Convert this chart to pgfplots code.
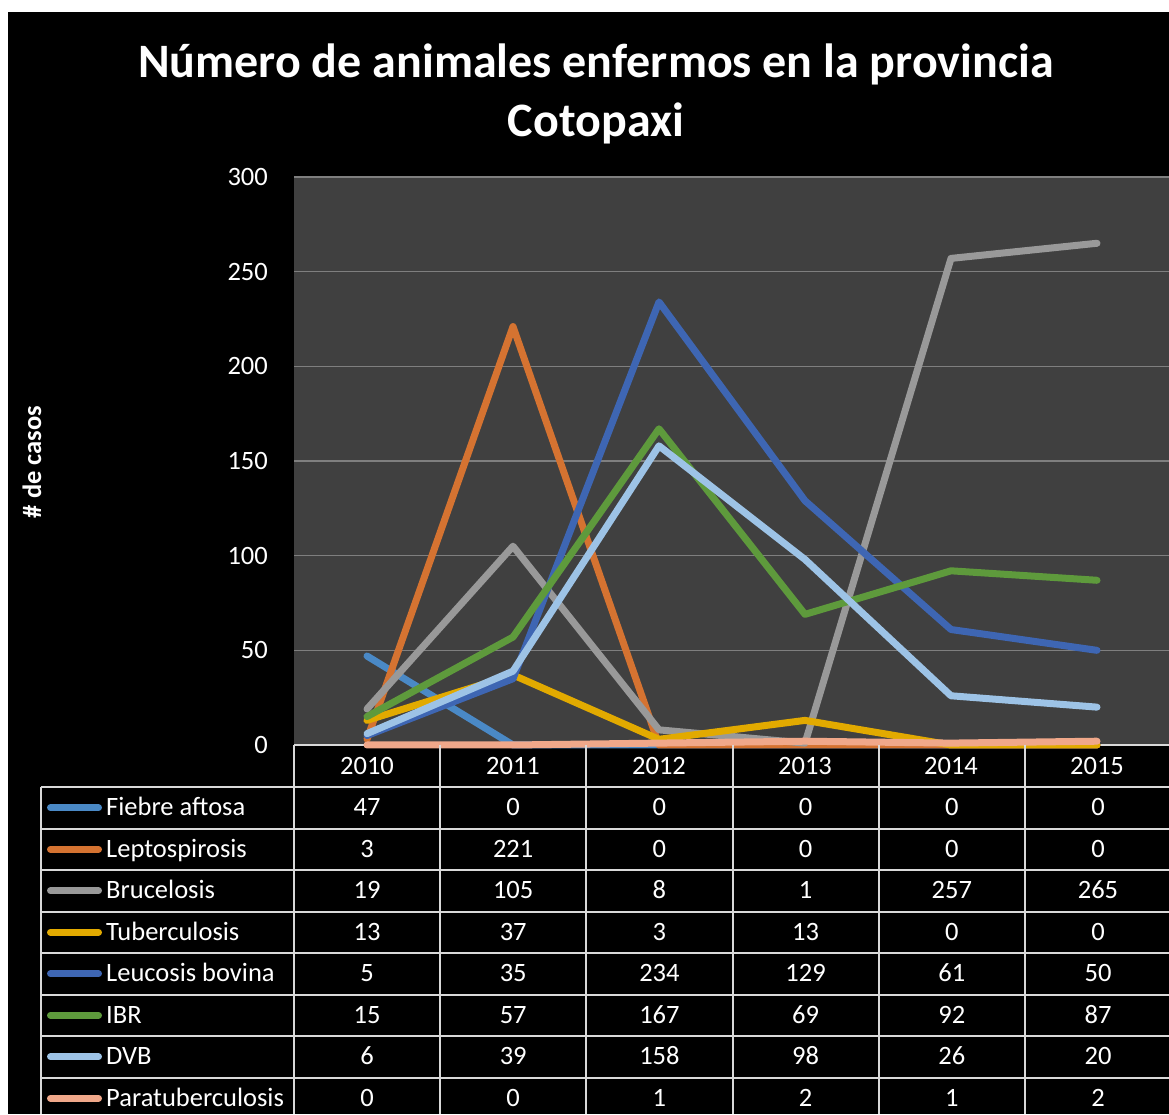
\documentclass[border=0pt]{standalone}
\usepackage{fontspec}
\setmainfont{Carlito}
\usepackage{pgfplots}
\usepackage{pgfplotstable}
\pgfplotsset{compat=1.18}
\definecolor{cFA}{HTML}{4A89C6}
\definecolor{cLE}{HTML}{D57331}
\definecolor{cBR}{HTML}{999999}
\definecolor{cTU}{HTML}{E2AA00}
\definecolor{cLB}{HTML}{3E66B3}
\definecolor{cIB}{HTML}{5E9A3C}
\definecolor{cDV}{HTML}{9DC3E6}
\definecolor{cPA}{HTML}{F0A88A}
\definecolor{plotbg}{HTML}{404040}
\definecolor{gridc}{HTML}{7F7F7F}
\definecolor{tabline}{HTML}{D9D9D9}

\pgfplotstableread{
x fa le br tu lb ib dv pa
0 47 3 19 13 5 15 6 0
1 0 221 105 37 35 57 39 0
2 0 0 8 3 234 167 158 1
3 0 0 1 13 129 69 98 2
4 0 0 257 0 61 92 26 1
5 0 0 265 0 50 87 20 2
}\datatable

\newcommand{\tabfont}{\fontsize{26.5}{30}\selectfont}

\begin{document}
\begin{tikzpicture}[x=1pt,y=1pt]
\useasboundingbox (0,0) rectangle (1169,1114);
\clip (0,0) rectangle (1169,1114);
\fill[white] (0,0) rectangle (1169,1114);
\fill[black] (8,0) rectangle (1169,1102);
% title
\node[white, anchor=base, inner sep=0pt, font=\fontsize{48}{59}\selectfont\bfseries] at (596,1036) {Número de animales enfermos en la provincia};
\node[white, anchor=base, inner sep=0pt, font=\fontsize{48}{59}\selectfont\bfseries] at (596,977) {Cotopaxi};
% y label
\node[white, rotate=90, inner sep=0pt, font=\fontsize{26.5}{30}\selectfont\bfseries] at (32,652) {\# de casos};

\begin{axis}[
  at={(294pt,369pt)}, anchor=south west,
  scale only axis, width=876pt, height=568pt,
  xmin=-0.5, xmax=5.5, ymin=0, ymax=300,
  ytick={0,50,...,300},
  xtick={0,1,2,3,4,5},
  xticklabels={2010,2011,2012,2013,2014,2015},
  axis line style={draw=none},
  axis background/.style={fill=plotbg},
  ymajorgrids, grid style={gridc, line width=1.5pt},
  major tick length=0pt,
  tick label style={white, font=\tabfont, inner sep=0pt},
  yticklabel style={anchor=east, xshift=-26pt},
  xticklabel style={anchor=center, yshift=-21pt},
  /pgf/number format/assume math mode=true,
  clip=false,
  every axis plot/.append style={line width=7pt, line cap=round, line join=round},
]
\draw[tabline, line width=2pt] (axis cs:-0.5,0) -- (axis cs:5.5,0);
\addplot[cFA] table[x=x,y=fa] {\datatable};
\addplot[cLE] table[x=x,y=le] {\datatable};
\addplot[cBR] table[x=x,y=br] {\datatable};
\addplot[cTU] table[x=x,y=tu] {\datatable};
\addplot[cLB] table[x=x,y=lb] {\datatable};
\addplot[cIB] table[x=x,y=ib] {\datatable};
\addplot[cDV] table[x=x,y=dv] {\datatable};
\addplot[cPA] table[x=x,y=pa] {\datatable};
\end{axis}

% data table grid
\foreach \k in {0,...,7} {
  \draw[tabline, line width=2pt] (41,{1114-(787+41.5*\k)}) -- (1169,{1114-(787+41.5*\k)});
}
\draw[tabline, line width=2pt] (41,{1114-787}) -- (41,0);
\foreach \k in {0,...,5} {
  \draw[tabline, line width=2pt] ({294+146.2*\k},369) -- ({294+146.2*\k},0);
}
% table content
\foreach \col/\lab/\colr [count=\r from 0] in {fa/Fiebre aftosa/cFA, le/Leptospirosis/cLE, br/Brucelosis/cBR, tu/Tuberculosis/cTU, lb/Leucosis bovina/cLB, ib/IBR/cIB, dv/DVB/cDV, pa/Paratuberculosis/cPA} {
  \pgfmathsetmacro\yc{1114-(807.75+41.5*\r)}
  \draw[\colr, line width=7pt, line cap=round] (50.5,\yc) -- (98.5,\yc);
  \node[anchor=base west, white, inner sep=0pt, font=\tabfont] at (106,\yc-8) {\lab};
  \foreach \k in {0,...,5} {
    \pgfplotstablegetelem{\k}{\col}\of\datatable
    \node[anchor=base, white, inner sep=0pt, font=\tabfont] at ({367+146.2*\k},\yc-8) {\pgfplotsretval};
  }
}
\end{tikzpicture}
\end{document}
